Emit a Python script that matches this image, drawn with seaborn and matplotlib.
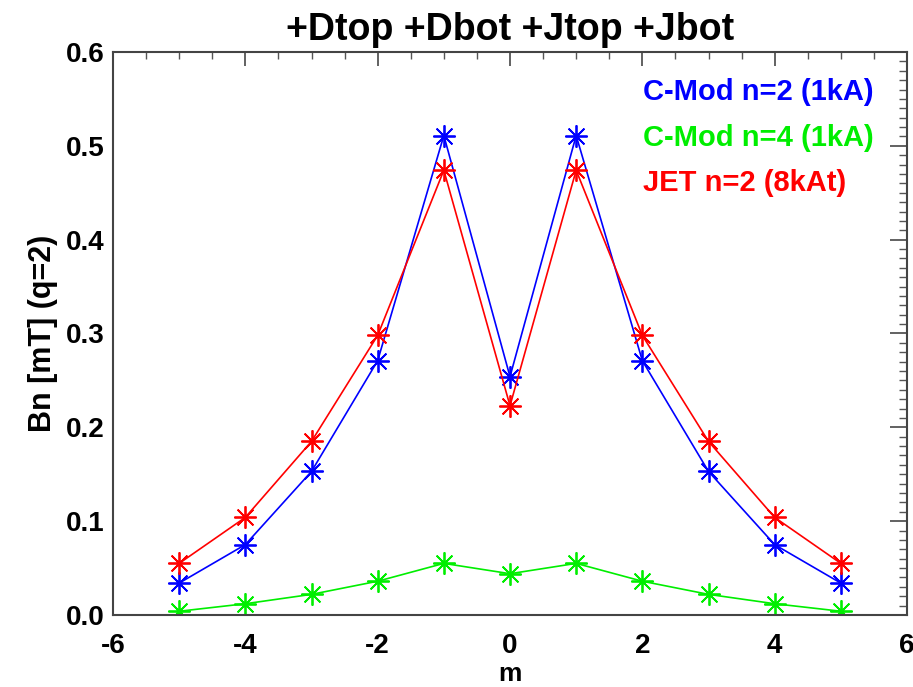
import numpy as np
import pandas as pd
import seaborn as sns
import matplotlib.pyplot as plt
from matplotlib.ticker import MultipleLocator, FormatStrFormatter

sns.set_style("white")
plt.rcParams['font.family'] = ['Liberation Sans', 'DejaVu Sans']
plt.rcParams['font.weight'] = 'bold'
plt.rcParams['axes.unicode_minus'] = False
plt.rcParams['text.color'] = 'black'
plt.rcParams['axes.labelcolor'] = 'black'
plt.rcParams['xtick.labelcolor'] = 'black'
plt.rcParams['ytick.labelcolor'] = 'black'

m = [-5, -4, -3, -2, -1, 0, 1, 2, 3, 4, 5]
cmod_n2 = [0.034, 0.075, 0.153, 0.271, 0.511, 0.254, 0.511, 0.271, 0.153, 0.075, 0.034]
cmod_n4 = [0.004, 0.012, 0.022, 0.036, 0.055, 0.044, 0.055, 0.036, 0.022, 0.012, 0.004]
jet_n2 = [0.055, 0.104, 0.185, 0.298, 0.474, 0.223, 0.474, 0.298, 0.185, 0.104, 0.055]

labels = ['C-Mod n=2 (1kA)', 'C-Mod n=4 (1kA)', 'JET n=2 (8kAt)']
colors = ['#0000ff', '#00ee00', '#ff0000']

df = pd.concat([
    pd.DataFrame({'m': m, 'Bn': cmod_n2, 'case': labels[0]}),
    pd.DataFrame({'m': m, 'Bn': cmod_n4, 'case': labels[1]}),
    pd.DataFrame({'m': m, 'Bn': jet_n2, 'case': labels[2]}),
])

fig = plt.figure(figsize=(9.13, 6.87), dpi=100)
ax = fig.add_axes([113/913, 72/687, 794/913, 563/687])

for lab, col in zip(labels, colors):
    sns.lineplot(data=df[df['case'] == lab], x='m', y='Bn', color=col, ax=ax,
                 marker=(8, 2, 0), markersize=16, markeredgewidth=1.3,
                 markeredgecolor=col, linewidth=1.2, legend=False)

ax.xaxis.set_major_locator(MultipleLocator(2))
ax.xaxis.set_minor_locator(MultipleLocator(0.5))
ax.yaxis.set_major_locator(MultipleLocator(0.1))
ax.yaxis.set_minor_locator(MultipleLocator(0.01))
ax.yaxis.set_major_formatter(FormatStrFormatter('%.1f'))
ax.set_xlim(-6, 6)
ax.set_ylim(0, 0.6)

ax.tick_params(axis='both', which='both', direction='in', top=True, right=True,
               color='#555555', labelsize=20)
ax.tick_params(axis='x', which='major', length=10, width=1.3, pad=13)
ax.tick_params(axis='x', which='minor', length=5, width=1.0)
ax.tick_params(axis='y', which='major', length=12, width=1.3, pad=6)
ax.tick_params(axis='y', which='minor', length=6, width=1.0)
for s in ax.spines.values():
    s.set_color('#444444')
    s.set_linewidth(1.5)

ax.set_xlabel('m', fontsize=19, fontweight='bold', labelpad=2)
ax.set_ylabel('Bn [mT] (q=2)', fontsize=22, fontweight='bold', labelpad=6)
ax.set_title('+Dtop +Dbot +Jtop +Jbot', fontsize=27, fontweight='bold', pad=9)

for i, (lab, col) in enumerate(zip(labels, colors)):
    ax.text(643/913, 1 - (92 + i*45.5)/687, lab, transform=fig.transFigure,
            color=col, fontsize=21, fontweight='bold', va='center', ha='left')

fig.savefig('out.png', dpi=100)
